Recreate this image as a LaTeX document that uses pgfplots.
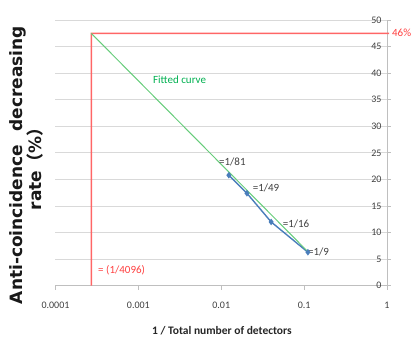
\documentclass[border=0pt]{standalone}
\usepackage{fontspec}
\setmainfont{Carlito}
\newfontfamily\deja{DejaVu Sans}
\newfontfamily\cjk{Noto Sans CJK SC}
\usepackage{pgfplots}
\pgfplotsset{compat=1.18}
\definecolor{gridc}{HTML}{D9D9D9}
\definecolor{axc}{HTML}{BFBFBF}
\definecolor{tickc}{HTML}{404040}
\definecolor{bluec}{HTML}{4A7EBB}
\definecolor{greenl}{HTML}{66CC7A}
\definecolor{greent}{HTML}{00B050}
\definecolor{redt}{HTML}{FF4040}
\definecolor{myred}{rgb}{1,0.4,0.4}
\begin{document}
\begin{tikzpicture}
\useasboundingbox (-55.5pt,-52.3pt) rectangle (358.5pt,285.7pt);
\begin{axis}[
  at={(0pt,0pt)}, anchor=south west,
  scale only axis, width=331.5pt, height=265.7pt,
  xmode=log, xmin=1e-4, xmax=1, ymin=0, ymax=50,
  clip=false,
  axis x line=bottom, axis y line=right,
  axis line style={axc, line width=0.8pt, -},
  xtick={1e-4,1e-3,1e-2,1e-1,1},
  xticklabels={0.0001,0.001,0.01,0.1,1},
  xminorticks=false, yminorticks=false,
  ytick={0,5,...,50},
  tick align=outside,
  major tick length=4pt,
  tick style={axc, line width=0.8pt},
  ymajorgrids, grid style={gridc, line width=0.9pt},
  /pgf/number format/assume math mode=true,
  ticklabel style={font=\fontsize{10}{12}\selectfont, text=tickc},
  xticklabel style={yshift=-9pt},
  yticklabel style={anchor=east, xshift=-6pt},
]
% red reference lines (x = 1/4096 marker, 46% level), drawn as a thin filled L-shape
\addplot[fill=myred, draw=none, mark=none]
  coordinates {(0.000265,0) (0.000276,0) (0.000276,47.36) (1.06,47.36) (1.06,47.64) (0.000265,47.64)} -- cycle;
\addplot[draw=bluec, line width=1.4pt, mark=diamond*, mark size=2.2pt, mark options={fill=bluec, draw=bluec}]
  coordinates {(0.012346,20.8) (0.020408,17.4) (0.04,12.0) (0.111111,6.3)};
\addplot[draw=greenl, line width=1pt, mark=none]
  coordinates {(0.00027,47.5) (0.111111,6.4)};

\node[anchor=west, inner sep=0pt, font=\fontsize{11}{13}\selectfont, text=greent] at (axis cs:0.0015,38.8) {Fitted curve};
\node[anchor=west, inner sep=0pt, font=\fontsize{11}{13}\selectfont, text=tickc] at (axis cs:0.00938,23.3) {=1/81};
\node[anchor=west, inner sep=0pt, font=\fontsize{11}{13}\selectfont, text=tickc] at (axis cs:0.0239,18.4) {=1/49};
\node[anchor=west, inner sep=0pt, font=\fontsize{11}{13}\selectfont, text=tickc] at (axis cs:0.0551,11.6) {=1/16};
\node[anchor=west, inner sep=0pt, font=\fontsize{11}{13}\selectfont, text=tickc] at (axis cs:0.111,6.3) {=1/9};
\node[anchor=west, inner sep=0pt, font=\fontsize{11}{13}\selectfont, text=redt] at (axis cs:0.000326,2.83) {= (1/4096)};
\node[anchor=west, inner sep=0pt, font=\fontsize{11}{13}\selectfont, text=redt] at (axis cs:1.146,47.5) {46\%};

\node[rotate=90, align=center, inner sep=0pt, font=\deja\bfseries\fontsize{17}{17}\selectfont, text=black!90]
  at (axis description cs:-0.0875,0.454)
  {\makebox[278pt][s]{Anti-coincidence\hfill decreasing}\\ rate{\cjk （}\%{\cjk ）}};
\node[inner sep=0pt, font=\bfseries\fontsize{11.5}{13}\selectfont, text=black!85]
  at (axis description cs:0.502,-0.169) {1 / Total number of detectors};
\end{axis}
\end{tikzpicture}
\end{document}
